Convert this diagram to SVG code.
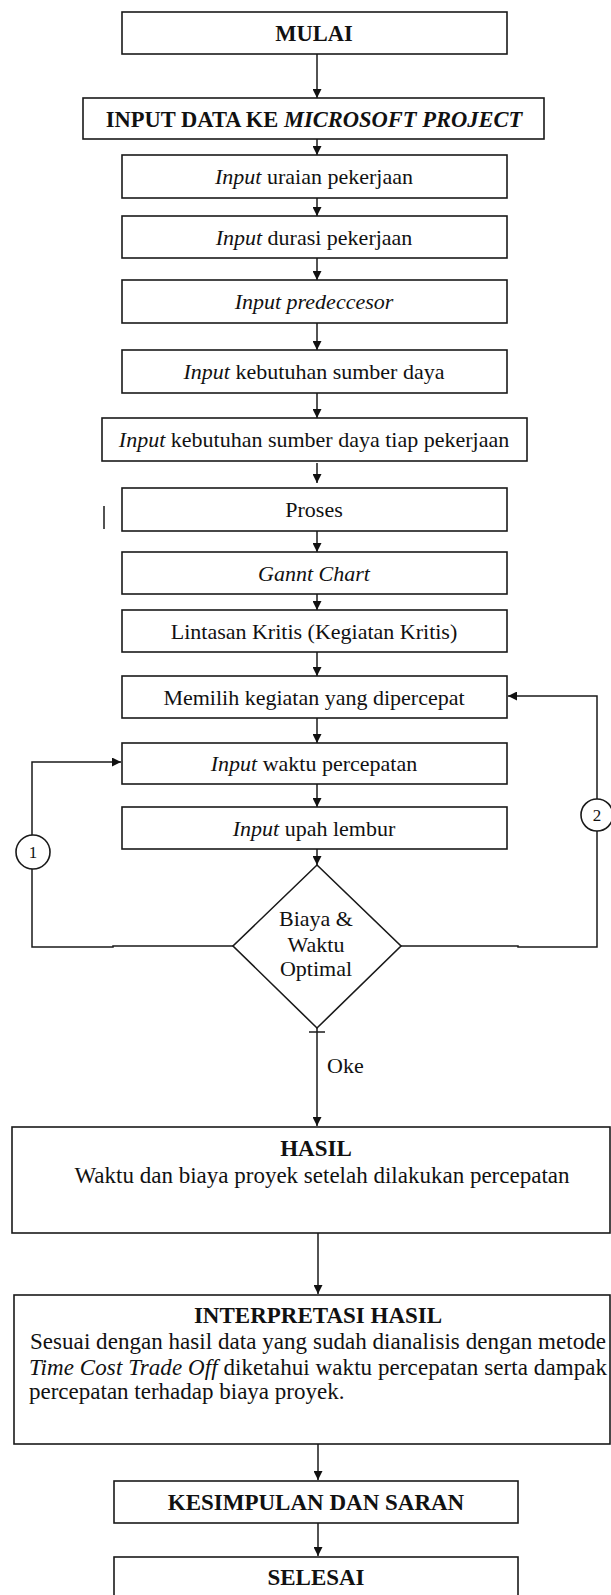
<svg xmlns="http://www.w3.org/2000/svg" width="611" height="1595" viewBox="0 0 611 1595">
<style>
  .box { fill: #ffffff; stroke: #1a1a1a; stroke-width: 1.6; }
  .ln { fill: none; stroke: #1a1a1a; stroke-width: 1.5; }
  .t { font-family: "Liberation Serif", "Times New Roman", serif; font-size: 22px; fill: #111; text-anchor: middle; }
  .b { font-weight: bold; font-size: 22.5px; }
  .lg { font-size: 23px; }
  .i { font-style: italic; }
  .tl { font-family: "Liberation Serif", "Times New Roman", serif; font-size: 23px; fill: #111; }
  .n { font-family: "Liberation Serif", "Times New Roman", serif; font-size: 17px; fill: #111; text-anchor: middle; }
</style>
<defs>
  <marker id="ah" viewBox="0 0 10 10" refX="10" refY="5" markerWidth="9" markerHeight="9" markerUnits="userSpaceOnUse" orient="auto">
    <path d="M0,0 L10,5 L0,10 Z" fill="#111"/>
  </marker>
</defs>
<rect width="611" height="1595" fill="#ffffff"/>

<g id="connectors">
  <line class="ln" x1="317" y1="54" x2="317" y2="98" marker-end="url(#ah)"/>
  <line class="ln" x1="317" y1="139" x2="317" y2="155" marker-end="url(#ah)"/>
  <line class="ln" x1="317" y1="198" x2="317" y2="216" marker-end="url(#ah)"/>
  <line class="ln" x1="317" y1="258" x2="317" y2="280" marker-end="url(#ah)"/>
  <line class="ln" x1="317" y1="323" x2="317" y2="350" marker-end="url(#ah)"/>
  <line class="ln" x1="317" y1="393" x2="317" y2="418" marker-end="url(#ah)"/>
  <line class="ln" x1="317" y1="463" x2="317" y2="483" marker-end="url(#ah)"/>
  <line class="ln" x1="317" y1="531" x2="317" y2="552" marker-end="url(#ah)"/>
  <line class="ln" x1="317" y1="594" x2="317" y2="610" marker-end="url(#ah)"/>
  <line class="ln" x1="317" y1="652" x2="317" y2="676" marker-end="url(#ah)"/>
  <line class="ln" x1="317" y1="718" x2="317" y2="743" marker-end="url(#ah)"/>
  <line class="ln" x1="317" y1="784" x2="317" y2="807" marker-end="url(#ah)"/>
  <line class="ln" x1="317" y1="849" x2="317" y2="865" marker-end="url(#ah)"/>
  <polyline class="ln" points="233,946 113,946 113,947 32,947 32,762 121,762" marker-end="url(#ah)"/>
  <polyline class="ln" points="401,946 518,946 518,947 597,947 597,696 508,696" marker-end="url(#ah)"/>
  <line class="ln" x1="309" y1="1032" x2="325" y2="1032"/>
  <line class="ln" x1="317" y1="1028" x2="317" y2="1126" marker-end="url(#ah)"/>
  <line class="ln" x1="318" y1="1233" x2="318" y2="1294" marker-end="url(#ah)"/>
  <line class="ln" x1="318" y1="1444" x2="318" y2="1480" marker-end="url(#ah)"/>
  <line class="ln" x1="318" y1="1523" x2="318" y2="1556" marker-end="url(#ah)"/>
  <line class="ln" x1="104" y1="506" x2="104" y2="529"/>
  <text class="tl" x="327" y="1073" style="font-size:22px">Oke</text>
</g>

<g id="mulai">
  <rect class="box" x="122" y="12" width="385" height="42"/>
  <text class="t b" x="314" y="41">MULAI</text>
</g>
<g id="input-data">
  <rect class="box" x="83" y="98" width="461" height="41"/>
  <text class="t b" x="314" y="127">INPUT DATA KE <tspan class="i">MICROSOFT PROJECT</tspan></text>
</g>
<g id="uraian">
  <rect class="box" x="122" y="155" width="385" height="43"/>
  <text class="t" x="314" y="184"><tspan class="i">Input</tspan> uraian pekerjaan</text>
</g>
<g id="durasi">
  <rect class="box" x="122" y="216" width="385" height="42"/>
  <text class="t" x="314" y="245"><tspan class="i">Input</tspan> durasi pekerjaan</text>
</g>
<g id="predeccesor">
  <rect class="box" x="122" y="280" width="385" height="43"/>
  <text class="t i" x="314" y="309">Input predeccesor</text>
</g>
<g id="kebutuhan">
  <rect class="box" x="122" y="350" width="385" height="43"/>
  <text class="t" x="314" y="379"><tspan class="i">Input</tspan> kebutuhan sumber daya</text>
</g>
<g id="kebutuhan-tiap">
  <rect class="box" x="102" y="418" width="425" height="43"/>
  <text class="t" x="314" y="447"><tspan class="i">Input</tspan> kebutuhan sumber daya tiap pekerjaan</text>
</g>
<g id="proses">
  <rect class="box" x="122" y="488" width="385" height="43"/>
  <text class="t" x="314" y="517">Proses</text>
</g>
<g id="gannt">
  <rect class="box" x="122" y="552" width="385" height="42"/>
  <text class="t i" x="314" y="581">Gannt Chart</text>
</g>
<g id="lintasan">
  <rect class="box" x="122" y="610" width="385" height="42"/>
  <text class="t" x="314" y="639">Lintasan Kritis (Kegiatan Kritis)</text>
</g>
<g id="memilih">
  <rect class="box" x="122" y="676" width="385" height="42"/>
  <text class="t" x="314" y="705">Memilih kegiatan yang dipercepat</text>
</g>
<g id="waktu">
  <rect class="box" x="122" y="743" width="385" height="41"/>
  <text class="t" x="314" y="771"><tspan class="i">Input</tspan> waktu percepatan</text>
</g>
<g id="upah">
  <rect class="box" x="122" y="807" width="385" height="42"/>
  <text class="t" x="314" y="836"><tspan class="i">Input</tspan> upah lembur</text>
</g>
<g id="keputusan">
  <polygon class="box" points="317,865 401,946 317,1028 233,946"/>
  <text class="t" x="316" y="926">Biaya &amp;</text>
  <text class="t" x="316" y="952">Waktu</text>
  <text class="t" x="316" y="976">Optimal</text>
</g>
<g id="konektor-1">
  <circle class="box" cx="33" cy="852" r="17"/>
  <text class="n" x="33" y="858">1</text>
</g>
<g id="konektor-2">
  <circle class="box" cx="597" cy="815" r="16"/>
  <text class="n" x="597" y="821">2</text>
</g>
<g id="hasil">
  <rect class="box" x="12" y="1127" width="598" height="106"/>
  <text class="t b lg" x="316" y="1156">HASIL</text>
  <text class="t lg" x="322" y="1183">Waktu dan biaya proyek setelah dilakukan percepatan</text>
</g>
<g id="interpretasi">
  <rect class="box" x="14" y="1295" width="596" height="149"/>
  <text class="t b lg" x="318" y="1323">INTERPRETASI HASIL</text>
  <text class="tl" x="30" y="1349" textLength="576" lengthAdjust="spacing">Sesuai dengan hasil data yang sudah dianalisis dengan metode</text>
  <text class="tl" x="29" y="1375" textLength="578" lengthAdjust="spacing"><tspan class="i">Time Cost Trade Off</tspan> diketahui waktu percepatan serta dampak</text>
  <text class="tl" x="29" y="1399">percepatan terhadap biaya proyek.</text>
</g>
<g id="kesimpulan">
  <rect class="box" x="114" y="1481" width="404" height="42"/>
  <text class="t b lg" x="316" y="1510">KESIMPULAN DAN SARAN</text>
</g>
<g id="selesai">
  <rect class="box" x="114" y="1557" width="404" height="44"/>
  <text class="t b lg" x="316" y="1585">SELESAI</text>
</g>
</svg>
